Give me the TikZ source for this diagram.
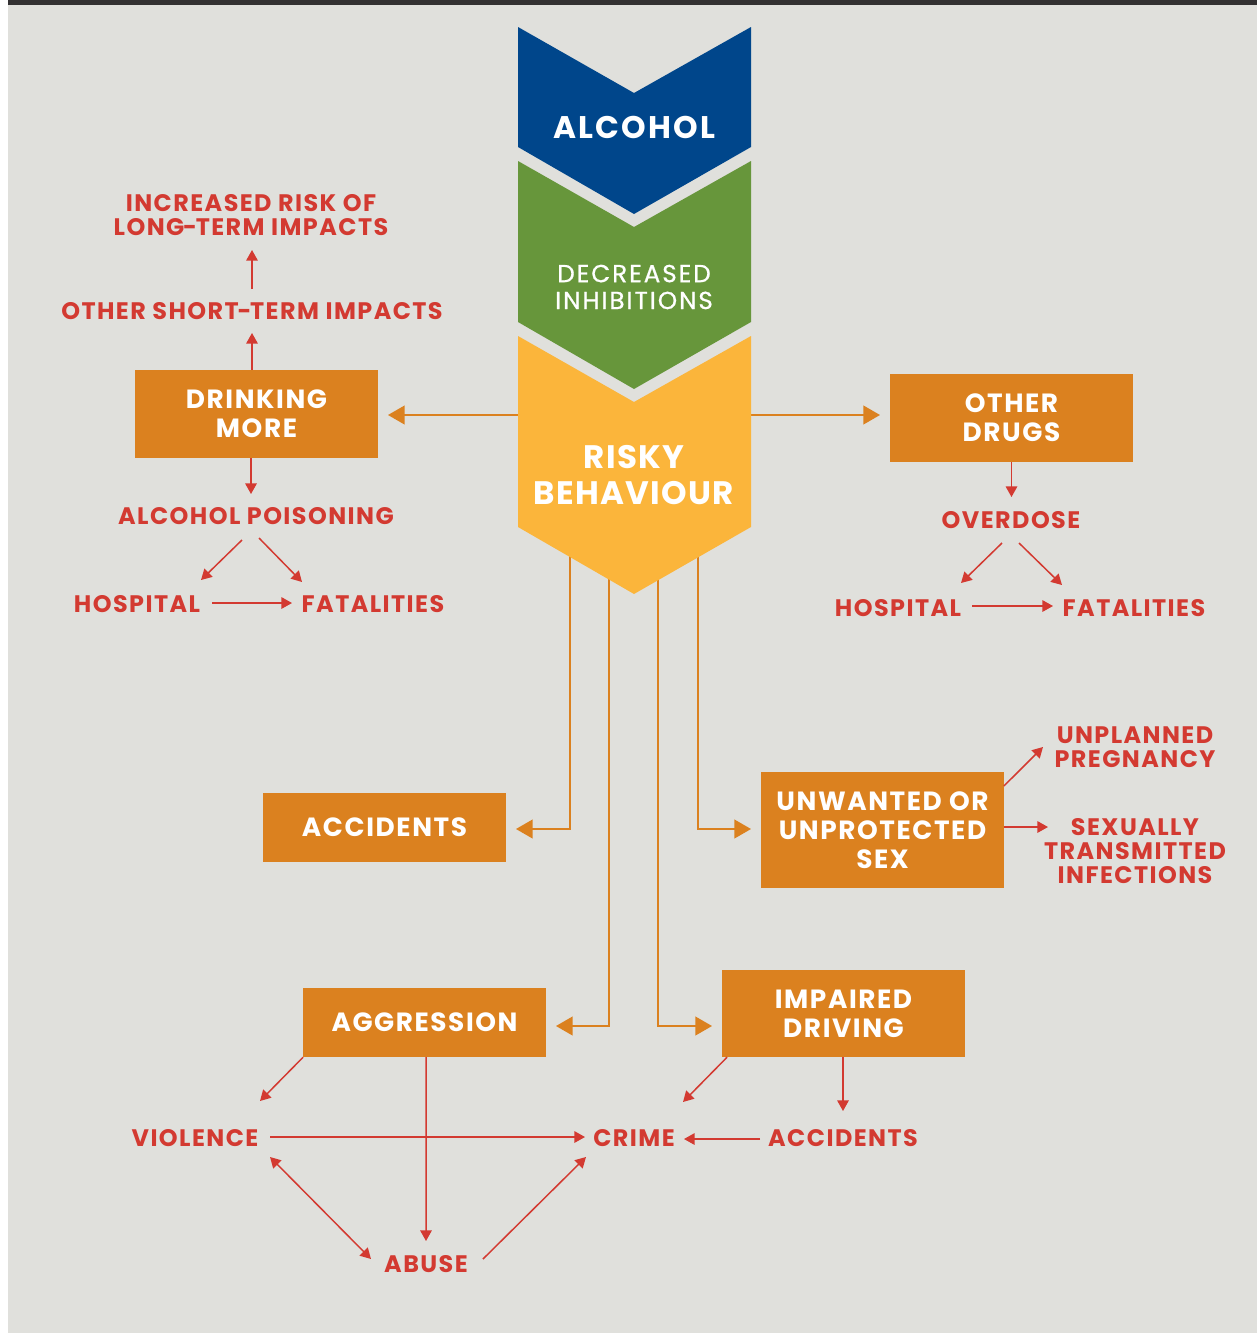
\documentclass[tikz,border=0pt]{standalone}
\usepackage{fontspec}
\setmainfont{Poppins}
\usetikzlibrary{arrows.meta,calc}
\definecolor{bg}{HTML}{E0E0DC}
\definecolor{topbar}{HTML}{333132}
\definecolor{cblue}{HTML}{00468B}
\definecolor{cgreen}{HTML}{67963B}
\definecolor{cyellow}{HTML}{FBB53B}
\definecolor{corange}{HTML}{DB811F}
\definecolor{cred}{HTML}{D33A31}
\newcommand{\chev}[3]{\fill[#1] (518,#2) -- (634,#2+66) -- (751,#2) -- (751,#3) -- (634,#3+67) -- (518,#3) -- cycle;}
\newcommand{\hy}{\kern-0.7pt-\kern-0.7pt}
\begin{document}
\begin{tikzpicture}[x=0.02cm,y=-0.02cm,
  redtxt/.style={text=cred, font=\bfseries\fontsize{13.6}{13.8}\selectfont\addfontfeatures{LetterSpace=6}, align=center, inner sep=0pt},
  boxtxt/.style={fill=corange, text=white, font=\bfseries\fontsize{15}{16.6}\selectfont\addfontfeatures{LetterSpace=6}, align=center, minimum width=137.8pt, inner sep=0pt},
  chevtxt/.style={text=white, align=center, inner sep=0pt},
  rarr/.style={draw=cred, line width=0.85pt, -{Triangle[length=6pt,width=6.5pt]}},
  rdarr/.style={draw=cred, line width=0.85pt, {Triangle[length=6pt,width=6.5pt]}-{Triangle[length=6pt,width=6.5pt]}},
  oarr/.style={draw=corange, line width=1.5pt, -{Triangle[length=9.5pt,width=10.5pt]}, shorten >=5.7pt}
]
\fill[white] (0,0) rectangle (1257,1333);
\fill[bg] (8,0) rectangle (1257,1333);
\fill[topbar] (8,0) rectangle (1257,5);
\useasboundingbox (0,0) rectangle (1257,1333);

% boxes
\node[boxtxt, minimum height=49.9pt] (drink) at (256.5,414) {DRINKING\\MORE};
\node[boxtxt, minimum height=49.9pt] (drugs) at (1011.5,418) {OTHER\\DRUGS};
\node[boxtxt, minimum height=39.1pt] (acc) at (384.5,827.5) {ACCIDENTS};
\node[boxtxt, minimum height=65.8pt] (sex) at (882.5,830) {UNWANTED OR\\UNPROTECTED\\SEX};
\node[boxtxt, minimum height=39.1pt] (agg) at (424.5,1022.5) {AGGRESSION};
\node[boxtxt, minimum height=49.3pt] (drive) at (843.5,1013.5) {IMPAIRED\\DRIVING};

% orange connectors from the chevron
\coordinate (yL) at (518,415);
\coordinate (yR) at (751,415);
\coordinate (b1) at (570,520);
\coordinate (b2) at (609,520);
\coordinate (b3) at (658,520);
\coordinate (b4) at (698,520);
\draw[oarr] (yL) -- (yL -| drink.east);
\draw[oarr] (yR) -- (yR -| drugs.west);
\draw[oarr] (b1) |- ($(acc.east)+(0,1.5)$);
\draw[oarr] (b2) |- ($(agg.east)+(0,3.5)$);
\draw[oarr] (b3) |- ($(drive.west)+(0,12.5)$);
\draw[oarr] (b4) |- ($(sex.west)+(0,-1)$);

% chevrons
\chev{cblue}{27}{147}
\chev{cgreen}{161}{322}
\chev{cyellow}{336}{527}
\node[chevtxt, font=\bfseries\fontsize{17.8}{20}\selectfont\addfontfeatures{LetterSpace=7}] (alc) at (634,127) {ALCOHOL};
\node[chevtxt, font=\fontsize{14}{15.3}\selectfont\addfontfeatures{LetterSpace=8,FakeBold=0.8}] (dec) at (634,287) {DECREASED\\INHIBITIONS};
\node[chevtxt, font=\bfseries\fontsize{18.5}{21}\selectfont\addfontfeatures{LetterSpace=4}] (risky) at (634,475) {RISKY\\BEHAVIOUR};

% red texts
\node[redtxt] (inc) at (251,215) {INCREASED RISK OF\\LONG\hy TERM IMPACTS};
\node[redtxt] (oth) at (252,311) {OTHER SHORT\hy TERM IMPACTS};
\node[redtxt] (pois) at (256,516) {ALCOHOL POISONING};
\node[redtxt] (hos1) at (137,604) {HOSPITAL};
\node[redtxt] (fat1) at (373,604) {FATALITIES};
\node[redtxt] (od) at (1011,520) {OVERDOSE};
\node[redtxt] (hos2) at (898,608) {HOSPITAL};
\node[redtxt] (fat2) at (1134,608) {FATALITIES};
\node[redtxt] (unp) at (1135,747) {UNPLANNED\\PREGNANCY};
\node[redtxt] (sti) at (1135,851) {SEXUALLY\\TRANSMITTED\\INFECTIONS};
\node[redtxt] (vio) at (195,1138) {VIOLENCE};
\node[redtxt] (crime) at (634,1138) {CRIME};
\node[redtxt] (acc2) at (843,1138) {ACCIDENTS};
\node[redtxt] (abuse) at (426,1264) {ABUSE};

% red connectors
\draw[rarr] ($(drink.north)+(-4.5,0)$) -- ($(oth)+(0,22)$);
\draw[rarr] ($(oth)+(0,-22)$) -- ($(inc)+(1,35)$);
\draw[rarr] ($(drink.south)+(-5.5,0)$) -- ($(pois)+(-5,-22)$);
\draw[rarr] ($(pois)+(-14,24)$) -- ($(hos1)+(64,-24)$);
\draw[rarr] ($(pois)+(3,22)$) -- ($(fat1)+(-71,-22)$);
\draw[rarr] ($(hos1)+(75,-1)$) -- ($(fat1)+(-81,-1)$);
\draw[rarr] (drugs.south) -- ($(od)+(0.5,-23)$);
\draw[rarr] ($(od)+(-9,23)$) -- ($(hos2)+(63,-25)$);
\draw[rarr] ($(od)+(8,23)$) -- ($(fat2)+(-72,-23)$);
\draw[rarr] ($(hos2)+(74,-2)$) -- ($(fat2)+(-81,-2)$);
\draw[rarr] ($(sex.east)+(0,-44)$) -- ($(unp)+(-92,0)$);
\draw[rarr] ($(sex.east)+(0,-3)$) -- ($(sti)+(-87,-24)$);
\draw[rarr] (agg.south west) -- ($(vio)+(65,-37)$);
\draw[rarr] ($(agg.south)+(1.5,0)$) -- ($(abuse)+(0,-23)$);
\draw[rarr] ($(vio)+(75,-1)$) -- ($(crime)+(-49,-1)$);
\draw[rarr] ($(acc2)+(-83,1)$) -- ($(crime)+(50,1)$);
\draw[rarr] ($(drive.south west)+(5,0)$) -- ($(crime)+(49,-36)$);
\draw[rarr] ($(drive.south)+(-0.5,0)$) -- ($(acc2)+(0,-27)$);
\draw[rdarr] ($(vio)+(75,19)$) -- ($(abuse)+(-55,-5)$);
\draw[rarr] ($(abuse)+(57,-5)$) -- ($(crime)+(-48,19)$);
\end{tikzpicture}
\end{document}
